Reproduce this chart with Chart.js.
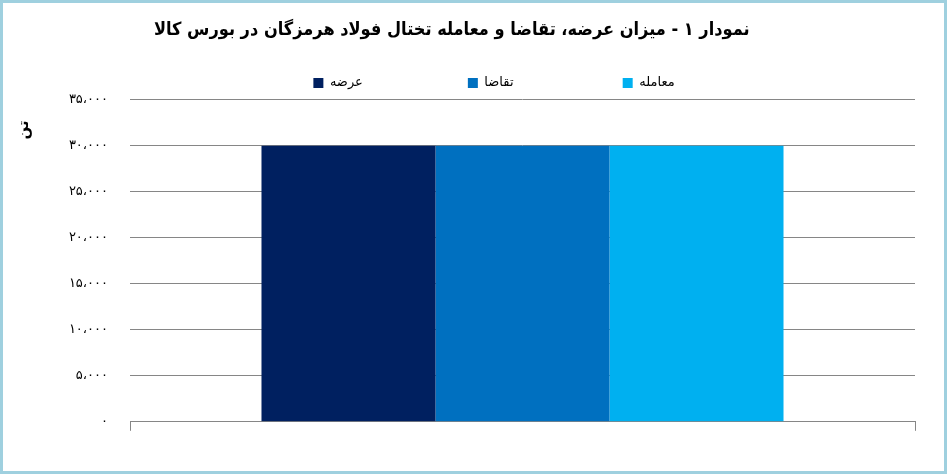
<!DOCTYPE html>
<html>
<head>
<meta charset="utf-8">
<script src="https://cdn.jsdelivr.net/npm/chart.js@4"></script>
<style>
  html, body { margin: 0; padding: 0; background: #fff; }
  #box {
    width: 947px; height: 474px; box-sizing: border-box;
    border: 3px solid #9fd0df; background: #fff;
  }
</style>
</head>
<body>
<div id="box"><canvas id="chart" width="941" height="468"></canvas></div>
<script>
const chartTitle = 'نمودار ۱ - میزان عرضه، تقاضا و معامله تختال فولاد هرمزگان در بورس کالا';
const categories = [''];
const seriesNames = ['عرضه', 'تقاضا', 'معامله'];
const supply = [30000];
const demand = [30000];
const traded = [30000];
const yTicks = [0, 5000, 10000, 15000, 20000, 25000, 30000, 35000];
const unitLabel = 'تن';

const colors = ['#002060', '#0070C0', '#00B0F0'];
const faDigits = '۰۱۲۳۴۵۶۷۸۹';
const font = "'DejaVu Sans', 'Noto Sans', sans-serif";
const titleFont = "'DejaVu Sans Condensed', 'DejaVu Sans', sans-serif";
const legendSize = 13;

function toPersian(n) {
    let s = Math.round(n).toString().replace(/\B(?=(\d{3})+(?!\d))/g, '،');
    return s.replace(/\d/g, d => faDigits[d]);
}

// pad texts with trailing spaces (used to place legend items and the title)
const measure = document.createElement('canvas').getContext('2d');
function padTo(text, width, cssFont) {
    measure.font = cssFont;
    while (measure.measureText(text).width < width) text += '\u00A0';
    return text;
}
const legendCss = legendSize + "px 'DejaVu Sans'";
const titleCss = "bold 18px 'DejaVu Sans Condensed'";
measure.font = titleCss;
const titleText = padTo(chartTitle, measure.measureText(chartTitle).width + 80, titleCss);

new Chart(document.getElementById('chart'), {
    type: 'bar',
    data: {
        labels: categories,
        datasets: [
            { label: seriesNames[0], data: supply, backgroundColor: colors[0] },
            { label: seriesNames[1], data: demand, backgroundColor: colors[1] },
            { label: seriesNames[2], data: traded, backgroundColor: colors[2] }
        ]
    },
    options: {
        responsive: false,
        animation: false,
        layout: { padding: { top: 7, right: 0, bottom: 33, left: 41 } },
        datasets: { bar: { categoryPercentage: 0.665, barPercentage: 1.0 } },
        plugins: {
            title: {
                display: true,
                text: titleText,
                color: '#000',
                font: { family: titleFont, size: 18, weight: 'bold' },
                padding: { top: 10, bottom: 25 }
            },
            legend: {
                display: true,
                labels: {
                    boxWidth: 10,
                    boxHeight: 10,
                    padding: 10,
                    color: '#000',
                    font: { family: font, size: legendSize },
                    generateLabels: chart => {
                        const items = Chart.defaults.plugins.legend.labels.generateLabels(chart);
                        items.forEach((it, i) => {
                            if (i < items.length - 1) it.text = padTo(it.text, 125, legendCss);
                        });
                        return items;
                    }
                }
            },
            tooltip: { enabled: false }
        },
        scales: {
            x: {
                grid: {
                    offset: true,
                    drawOnChartArea: false,
                    drawTicks: true,
                    tickLength: 9,
                    color: '#868686'
                },
                border: { display: true, color: '#868686', width: 1 },
                ticks: { display: true, font: { size: 1 } }
            },
            y: {
                min: 0,
                max: 35000,
                afterBuildTicks: axis => { axis.ticks = yTicks.map(v => ({ value: v })); },
                afterFit: axis => { axis.width = 86; },
                grid: { color: '#868686', drawTicks: false },
                border: { display: false },
                ticks: {
                    padding: 22,
                    color: '#000',
                    font: { family: font, size: 13 },
                    callback: v => toPersian(v)
                },
                title: {
                    display: true,
                    text: unitLabel + '\u00A0\u00A0\u00A0\u00A0',
                    align: 'end',
                    color: '#000',
                    font: { family: font, size: 15, weight: 'bold' },
                    padding: { top: -29, bottom: 0 }
                }
            },
            y2: {
                position: 'right',
                display: true,
                afterFit: axis => { axis.width = 29; },
                grid: { display: false, drawTicks: false },
                border: { display: false },
                ticks: { display: false }
            }
        }
    }
});
</script>
</body>
</html>
